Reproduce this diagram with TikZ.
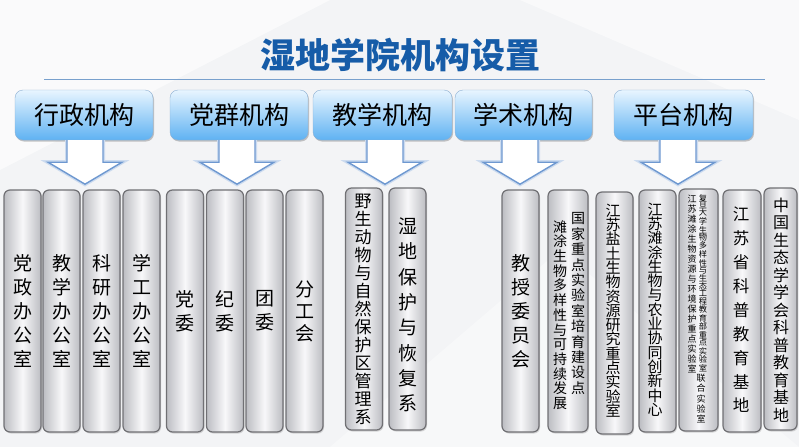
\documentclass[tikz,border=0pt]{standalone}
\usepackage{fontspec}
\newfontfamily\cjk{Noto Sans CJK SC}
\usetikzlibrary{positioning,calc,shadows}
\XeTeXlinebreaklocale "zh"
\XeTeXlinebreakskip=0pt plus 1pt
\setlength{\parindent}{0pt}
\definecolor{ttlblue}{RGB}{22,92,168}
\definecolor{rulecol}{RGB}{120,160,205}
\definecolor{headtop}{RGB}{232,245,255}
\definecolor{headbot}{RGB}{95,178,242}
\definecolor{headline}{RGB}{140,175,210}
\definecolor{unitside}{RGB}{188,189,194}
\definecolor{unitmid}{RGB}{248,248,250}
\definecolor{unitline}{RGB}{112,112,116}
\definecolor{arrline}{RGB}{110,152,208}
\definecolor{bg}{RGB}{243,244,246}
\tikzset{
    title/.style={font=\cjk\bfseries\fontsize{35}{35}\selectfont, text=ttlblue, inner sep=0pt},
    head/.style={draw=headline, rounded corners=8pt, top color=headtop, bottom color=headbot,
        minimum width=138pt, minimum height=50pt, font=\cjk\fontsize{25}{25}\selectfont,
        drop shadow={shadow xshift=1pt, shadow yshift=-1.5pt, opacity=.45}},
    unit/.style={draw=unitline, line width=1.2pt, rounded corners=6pt, left color=unitside,
        right color=unitside, middle color=unitmid, minimum width=37pt, minimum height=242pt,
        inner sep=0pt, drop shadow={shadow xshift=1pt, shadow yshift=-1.5pt, opacity=.3}},
    vt/.style 2 args={font=\cjk\fontsize{#1}{#2}\selectfont, text width=1.4*#1pt,
        align=center, inner sep=0pt},
    blockarrow/.style={draw=arrline, line width=1.4pt, fill=white, line join=miter,
        preaction={draw=arrline!35, line width=4pt}}
}
% hollow down arrow below a header
\newcommand\downarr[2]{%
    \draw[blockarrow] ($(#1.south)+(#2-18,0)$) -- ($(#1.south)+(#2-18,22)$)
        -- ($(#1.south)+(#2-37,22)$) -- ($(#1.south)+(#2,44)$)
        -- ($(#1.south)+(#2+37,22)$) -- ($(#1.south)+(#2+18,22)$)
        -- ($(#1.south)+(#2+18,0)$);
}
\begin{document}
\begin{tikzpicture}[x=1pt,y=-1pt]
    \useasboundingbox (0,0) rectangle (799,447);
    \fill[bg] (0,0) rectangle (799,447);
    \fill[white, opacity=.6] (0,0) -- (330,0) -- (0,170) -- cycle;
    \fill[white, opacity=.5] (520,0) -- (799,0) -- (799,120) -- cycle;
    \fill[white, opacity=.4] (330,447) -- (560,250) -- (799,447) -- cycle;

    \node[title] (ttl) at (400,55) {湿地学院机构设置};
    \coordinate (r1) at (44,79);
    \coordinate (r2) at (765,79);
    \draw[rulecol, line width=.9pt] (r1) -- (r2);

    \node[head] (xz) at (84,115) {行政机构};
    \node[head] (dq) at (239,115) {党群机构};
    \node[head, minimum width=139pt] (jx) at (382.5,115) {教学机构};
    \node[head, minimum width=137pt] (xs) at (523.5,115) {学术机构};
    \node[head, minimum width=139pt] (pt) at (683.5,115) {平台机构};

    \downarr{xz}{1}
    \downarr{dq}{-2}
    \downarr{jx}{2.5}
    \downarr{xs}{-3.5}
    \downarr{pt}{-5.5}

    \node[unit] (b1) at (22.5,311) {};
    \node[unit] (b2) at (61.5,311) {};
    \node[unit] (b3) at (101.5,311) {};
    \node[unit] (b4) at (141.5,311) {};
    \node[unit] (b5) at (185,311) {};
    \node[unit] (b6) at (225,311) {};
    \node[unit] (b7) at (264.5,311) {};
    \node[unit] (b8) at (304.5,311) {};
    \node[unit] (b9) at (364,309) {};
    \node[unit] (b10) at (407.5,309) {};
    \node[unit] (b11) at (520.5,311) {};
    \node[unit, minimum width=40pt] (b12) at (568,311) {};
    \node[unit] (b13) at (614.5,313) {};
    \node[unit] (b14) at (657.5,311) {};
    \node[unit, minimum width=39pt] (b15) at (698.5,310) {};
    \node[unit, minimum width=38pt] (b16) at (742,311) {};
    \node[unit, minimum width=33pt] (b17) at (780.5,309) {};

    \node[vt={19}{24}] (t1) at (b1) {党政办公室};
    \node[vt={19}{24}] (t2) at (b2) {教学办公室};
    \node[vt={19}{24}] (t3) at (b3) {科研办公室};
    \node[vt={19}{24}] (t4) at (b4) {学工办公室};
    \node[vt={19}{24}] (t5) at (b5) {党委};
    \node[vt={19}{24}] (t6) at (b6) {纪委};
    \node[vt={19}{24}] (t7) at (b7) {团委};
    \node[vt={19}{22}] (t8) at (b8) {分工会};
    \node[vt={17}{18}] (t9) at (363,309.5) {野生动物与自然保护区管理系};
    \node[vt={19}{25.3}] (t10) at (408,315) {湿地保护与恢复系};
    \node[vt={19}{24}] (t11) at (b11) {教授委员会};
    \node[vt={14}{15.4}] (t12r) at (578,303.5) {国家重点实验室培育建设点};
    \node[vt={14}{14.7}] (t12l) at (560,315) {滩涂生物多样性与可持续发展};
    \node[vt={15}{14.3}] (t13) at (613,310.5) {江苏盐土生物资源研究重点实验室};
    \node[vt={15}{14.3}] (t14) at (655,309.5) {江苏滩涂生物与农业协同创新中心};
    \node[vt={8.2}{7.4}, anchor=north] (t15r) at (703,194) {复旦大学生物多样性与生态工程教育部重点实验室};
    \node[vt={9}{10.2}, anchor=north] (t15b) at (701,374) {联合实验室};
    \node[vt={9}{10}, anchor=north] (t15l) at (692,195) {江苏滩涂生物资源与环境保护重点实验室};
    \node[vt={16.5}{23.9}] (t16) at (741,310) {江苏省科普教育基地};
    \node[vt={16}{17.5}] (t17) at (781,310) {中国生态学学会科普教育基地};
\end{tikzpicture}
\end{document}
